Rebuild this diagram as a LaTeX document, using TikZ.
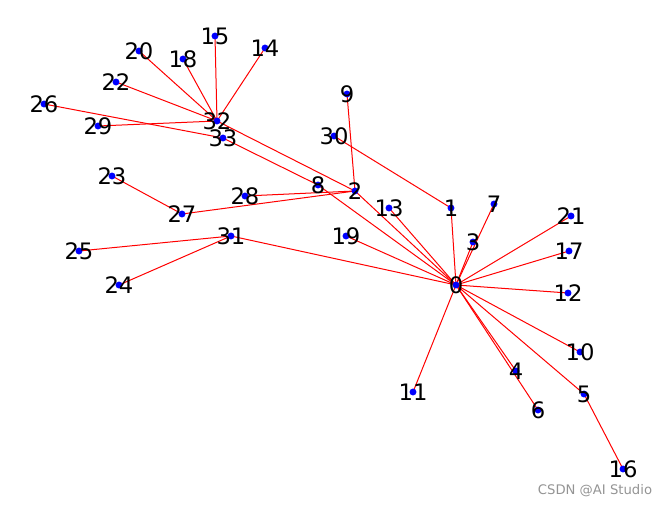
\documentclass[tikz,border=0pt]{standalone}
\usepackage{fontspec}
\setmainfont{DejaVu Sans}
\usetikzlibrary{backgrounds}
\tikzset{
	vtx/.style={circle, fill=blue, inner sep=0pt, minimum size=5.2pt},
	lbl/.style={inner sep=0pt, text=black, font=\fontsize{17}{18}\selectfont},
	edge/.style={red, line width=0.75pt},
	wmark/.style={inner sep=0pt, text=black!42, font=\fontsize{9.9}{11}\selectfont}
}

\begin{document}
\begin{tikzpicture}[x=0.75pt, y=-0.75pt]
	%%%%% START %%%%%
	
	\useasboundingbox (0, 0) rectangle (667, 506);
	
	% vertices
	\foreach \i/\x/\y in {0/456/285, 1/451/208, 2/355/191, 3/473/242, 4/516/371,
		5/584/394, 6/538/410, 7/494/204, 8/318/185, 9/347/94, 10/580/352,
		11/413/392, 12/568/293, 13/389/208, 14/265/48, 15/215/36, 16/623/469,
		17/569/251, 18/183/59, 19/346/236, 20/139/51, 21/571/216, 22/116/82,
		23/112/176, 24/119/285, 25/79/251, 26/44/104, 27/182/214, 28/245/196,
		29/98/126, 30/334/136, 31/231/236, 32/217/121, 33/223/138}
	{
		\node[vtx] (n\i) at (\x, \y) {};
		\node[lbl] (t\i) at (n\i) {\i};
	}
	
	% tree edges
	\begin{scope}[on background layer]
		\foreach \a/\b in {0/1, 0/2, 0/3, 0/4, 0/5, 0/6, 0/7, 0/8, 0/10, 0/11,
			0/12, 0/13, 0/17, 0/19, 0/21, 0/31, 1/30, 2/9, 2/27, 2/28, 2/32,
			5/16, 8/33, 31/24, 31/25, 27/23, 32/14, 32/15, 32/18, 32/20,
			32/22, 32/29, 33/26}
			\draw[edge] (n\a.center) -- (n\b.center);
	\end{scope}
	
	\node[wmark] (wm) at (595, 491) {CSDN @AI Studio};
	
	%%%%% END %%%%%
\end{tikzpicture}
\end{document}
